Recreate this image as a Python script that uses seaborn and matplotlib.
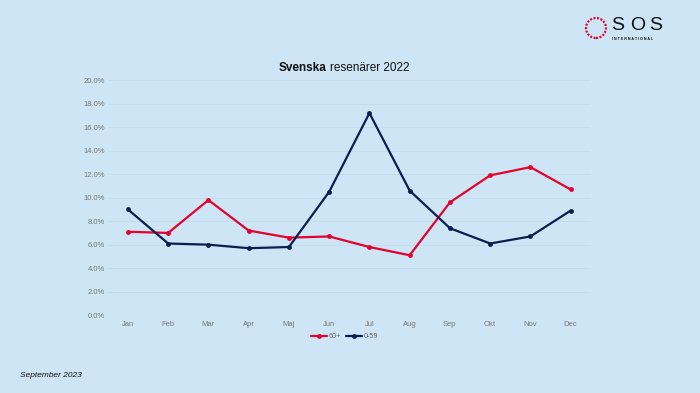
import pandas as pd
import seaborn as sns
import matplotlib.pyplot as plt
from matplotlib.patches import Ellipse
from matplotlib.ticker import PercentFormatter

# Data (share of cases, %)
months = ["Jan", "Feb", "Mar", "Apr", "Maj", "Jun", "Jul", "Aug", "Sep", "Okt", "Nov", "Dec"]
senior = [7.1, 7.0, 9.8, 7.2, 6.6, 6.7, 5.8, 5.1, 9.6, 11.9, 12.6, 10.7]
younger = [9.0, 6.1, 6.0, 5.7, 5.8, 10.5, 17.2, 10.6, 7.4, 6.1, 6.7, 8.9]
groups = ["60+", "0-59"]

bg = "#cde5f5"
red = "#e4032e"
navy = "#0b1f4e"

df = pd.DataFrame({
    "Månad": months * 2,
    "Andel": senior + younger,
    "Grupp": [groups[0]] * len(months) + [groups[1]] * len(months),
})

sns.set_theme(style="white")
plt.rcParams["font.family"] = ["Liberation Sans", "DejaVu Sans"]

fig = plt.figure(figsize=(7, 3.93), dpi=100, facecolor=bg)
ax = fig.add_axes([0.154, 0.198, 0.69, 0.598])
ax.set_facecolor(bg)

sns.lineplot(data=df, x="Månad", y="Andel", hue="Grupp", palette=[red, navy],
             marker="o", markersize=3.5, markeredgewidth=0, linewidth=1.6,
             sort=False, ax=ax)

ax.set_ylim(0, 20)
ax.set_xlim(-0.5, 11.5)
ax.set_yticks(range(0, 21, 2))
ax.yaxis.set_major_formatter(PercentFormatter(decimals=1))
ax.grid(axis="y", color="#c3dbeb", linewidth=0.6)
ax.tick_params(axis="both", labelsize=5.5, colors="#777777", length=0)
ax.tick_params(axis="y", pad=2)
ax.tick_params(axis="x", pad=4)
ax.set_xlabel("")
ax.set_ylabel("")
for s in ax.spines.values():
    s.set_visible(False)

leg = ax.legend(loc="upper center", bbox_to_anchor=(0.49, -0.05), ncol=2, frameon=False,
                fontsize=5.2, handlelength=2.2, handletextpad=0.2, columnspacing=0.8)
for t in leg.get_texts():
    t.set_color("#666666")

# title with bold first word
fig.text(0.467, 0.828, "Svenska", fontsize=8.5, fontweight="bold", ha="right", va="center", color="#111111")
fig.text(0.471, 0.828, "resenärer 2022", fontsize=8.5, ha="left", va="center", color="#111111")

fig.text(0.028, 0.045, "September 2023", fontsize=6, style="italic", va="center", color="#111111")

# logo
fig.patches.append(Ellipse((596 / 700, 1 - 28 / 393), 20 / 700, 20 / 393,
                           transform=fig.transFigure, fill=False, edgecolor=red,
                           linewidth=1.6, linestyle=(0, (0.9, 0.7))))
for i, ch in enumerate("SOS"):
    fig.text((611 + i * 19) / 700, 1 - 26 / 393, ch, fontsize=14, va="center", ha="left",
             color="#111111")
fig.text(612 / 700, 1 - 38.5 / 393, "I N T E R N A T I O N A L", fontsize=2.6, va="center",
         ha="left", color="#111111", fontweight="bold")

fig.savefig("out.png", dpi=100, facecolor=bg)
